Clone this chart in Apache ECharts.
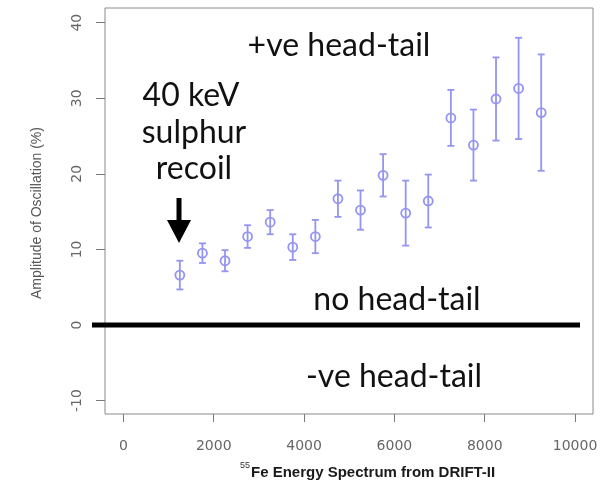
<!DOCTYPE html>
<html>
<head>
<meta charset="utf-8">
<script src="https://cdn.jsdelivr.net/npm/echarts@6/dist/echarts.min.js"></script>
<style>
  html, body { margin: 0; padding: 0; background: #fff; }
  #chart { width: 613px; height: 492px; }
</style>
</head>
<body>
<div id="chart"></div>
<script>
// Head-tail oscillation amplitude vs 55Fe-calibrated energy (DRIFT-II)
var energy = [1250, 1750, 2250, 2750, 3250, 3750, 4250, 4750, 5250,
              5750, 6250, 6750, 7250, 7750, 8250, 8750, 9250];
var amplitude = [6.6, 9.5, 8.5, 11.7, 13.6, 10.3, 11.7, 16.7, 15.2,
                 19.8, 14.8, 16.4, 27.4, 23.8, 29.9, 31.3, 28.1];
var amplitudeErr = [1.9, 1.3, 1.4, 1.5, 1.6, 1.7, 2.2, 2.4, 2.6,
                    2.8, 4.3, 3.5, 3.7, 4.7, 5.5, 6.7, 7.7];

var xTicks = [0, 2000, 4000, 6000, 8000, 10000];
var yTicks = [-10, 0, 10, 20, 30, 40];

var points = energy.map(function (e, i) { return [e, amplitude[i], amplitudeErr[i]]; });

var markColor = '#9494f2';
var tickColor = '#7a7a7a';
var labelColor = '#666';
var noteFont = 'Lato';

var chart = echarts.init(document.getElementById('chart'), null, { renderer: 'canvas' });

function plain(v) { return String(v); }

var option = {
  animation: false,
  backgroundColor: '#fff',
  grid: {
    left: 105, right: 20, top: 8, bottom: 78,
    show: true, borderColor: '#8a8a8a', borderWidth: 1, backgroundColor: 'transparent'
  },
  xAxis: {
    type: 'value',
    min: -407, max: 10397,
    axisLine: { show: false, onZero: false },
    splitLine: { show: false },
    axisTick: { show: true, inside: false, length: 8, customValues: xTicks,
                lineStyle: { color: tickColor } },
    axisLabel: {
      customValues: xTicks, margin: 25, formatter: plain,
      fontFamily: 'DejaVu Sans', fontSize: 14, color: labelColor
    }
  },
  yAxis: {
    type: 'value',
    min: -11.78, max: 41.94,
    axisLine: { show: false, onZero: false },
    splitLine: { show: false },
    axisTick: { show: true, inside: false, length: 9, customValues: yTicks,
                lineStyle: { color: tickColor } },
    axisLabel: {
      customValues: yTicks, margin: 21, rotate: 90, formatter: plain,
      fontFamily: 'DejaVu Sans', fontSize: 14, color: labelColor
    }
  },
  series: [{
    type: 'custom',
    data: points,
    encode: { x: 0, y: 1 },
    renderItem: function (params, api) {
      var x = api.value(0), y = api.value(1), err = api.value(2);
      var c = api.coord([x, y]);
      var hi = api.coord([x, y + err]);
      var lo = api.coord([x, y - err]);
      var cap = 3.5;
      var st = { stroke: markColor, lineWidth: 1.8, fill: null };
      return {
        type: 'group',
        children: [
          { type: 'line', shape: { x1: c[0], y1: hi[1], x2: c[0], y2: lo[1] }, style: st },
          { type: 'line', shape: { x1: c[0] - cap, y1: hi[1], x2: c[0] + cap, y2: hi[1] }, style: st },
          { type: 'line', shape: { x1: c[0] - cap, y1: lo[1], x2: c[0] + cap, y2: lo[1] }, style: st },
          { type: 'circle', shape: { cx: c[0], cy: c[1], r: 4.5 },
            style: { stroke: markColor, lineWidth: 1.8, fill: 'rgba(255,255,255,0)' } }
        ]
      };
    }
  }]
};
chart.setOption(option);

// Annotation layer: zero line, region labels, arrow, axis titles
var zeroY = chart.convertToPixel({ gridIndex: 0 }, [0, 0])[1];

function note(txt, x, y) {
  return {
    type: 'text', x: x, y: y, z: 10,
    style: { text: txt, fontFamily: noteFont, fontSize: 32, fill: '#111',
             align: 'center', verticalAlign: 'middle' }
  };
}

chart.setOption({
  graphic: [
    { type: 'line', z: 5, shape: { x1: 92, y1: zeroY, x2: 580, y2: zeroY },
      style: { stroke: '#000', lineWidth: 5 } },
    note('+ve head-tail', 339, 46),
    note('40 keV', 191, 96),
    note('sulphur', 194, 133),
    note('recoil', 194, 169),
    note('no head-tail', 397, 300),
    note('-ve head-tail', 394, 377),
    { type: 'line', z: 10, shape: { x1: 179, y1: 198, x2: 179, y2: 224 },
      style: { stroke: '#000', lineWidth: 5 } },
    { type: 'polygon', z: 10, shape: { points: [[167, 220], [191, 220], [179, 243]] },
      style: { fill: '#000' } },
    { type: 'text', x: 37, y: 213, rotation: Math.PI / 2,
      style: { text: 'Amplitude of Oscillation (%)', fontFamily: 'Liberation Sans', fontSize: 14,
               fill: '#555', align: 'center', verticalAlign: 'middle' } },
    { type: 'text', x: 250, y: 466,
      style: { text: '55', fontFamily: 'Liberation Sans', fontSize: 9, fill: '#333',
               align: 'right', verticalAlign: 'middle' } },
    { type: 'text', x: 251, y: 473,
      style: { text: 'Fe Energy Spectrum from DRIFT-II', fontFamily: 'Liberation Sans', fontSize: 15,
               fontWeight: 'bold', fill: '#1a1a1a', align: 'left', verticalAlign: 'middle' } }
  ]
});
</script>
</body>
</html>
